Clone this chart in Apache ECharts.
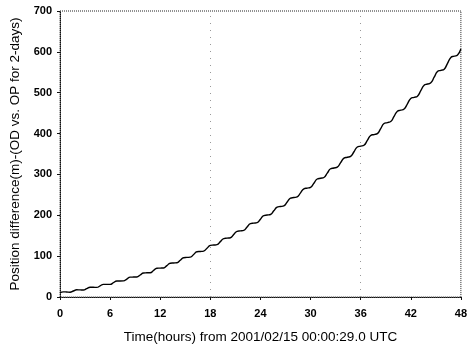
<!DOCTYPE html>
<html>
<head>
<meta charset="utf-8">
<script src="https://cdn.jsdelivr.net/npm/echarts@6/dist/echarts.min.js"></script>
<style>
html,body{margin:0;padding:0;background:#fff;}
#c{width:470px;height:351px;}
</style>
</head>
<body>
<div id="c"></div>
<script>
// Time in hours since 2001/02/15 00:00:29.0 UTC
var hours = [0,0.4,0.8,1.2,1.6,2.0,2.4,2.8,3.2,3.6,4.0,4.4,4.8,5.2,5.6,6.0,6.4,6.8,7.2,7.6,8.0,8.4,8.8,9.2,9.6,10.0,10.4,10.8,11.2,11.6,12.0,12.4,12.8,13.2,13.6,14.0,14.4,14.8,15.2,15.6,16.0,16.4,16.8,17.2,17.6,18.0,18.4,18.8,19.2,19.6,20.0,20.4,20.8,21.2,21.6,22.0,22.4,22.8,23.2,23.6,24.0,24.4,24.8,25.2,25.6,26.0,26.4,26.8,27.2,27.6,28.0,28.4,28.8,29.2,29.6,30.0,30.4,30.8,31.2,31.6,32.0,32.4,32.8,33.2,33.6,34.0,34.4,34.8,35.2,35.6,36.0,36.4,36.8,37.2,37.6,38.0,38.4,38.8,39.2,39.6,40.0,40.4,40.8,41.2,41.6,42.0,42.4,42.8,43.2,43.6,44.0,44.4,44.8,45.2,45.6,46.0,46.4,46.8,47.2,47.6,48.0];
// Position difference (m), OD vs OP
var posDiff = [10.0,12.6,12.2,11.8,14.7,17.7,17.4,17.1,20.4,23.8,23.7,23.5,27.2,31.0,31.0,30.9,35.0,39.3,39.3,39.4,43.9,48.6,48.8,48.9,53.9,58.9,59.2,59.5,64.8,70.3,70.7,71.1,76.9,82.7,83.3,83.8,90.0,96.2,96.9,97.5,104.1,110.8,111.5,112.3,119.3,126.3,127.2,128.1,135.5,143.0,144.0,145.0,152.8,160.7,161.8,162.9,171.1,179.4,180.7,181.9,190.5,199.2,200.6,201.9,210.9,220.0,221.5,223.0,232.4,241.9,243.5,245.1,254.9,264.8,266.6,268.3,278.5,288.8,290.7,292.5,303.1,313.9,315.8,317.8,328.8,339.9,342.0,344.1,355.5,367.1,369.3,371.5,383.3,395.3,397.6,399.9,412.1,424.5,426.9,429.4,442.0,454.8,457.3,459.9,472.9,486.1,488.8,491.5,504.9,518.5,521.3,524.1,537.9,551.9,554.8,557.7,572.0,586.4,589.4,592.5,607.1];
var xTicks = {min: 0, max: 48, interval: 6};
var yTicks = {min: 0, max: 700, interval: 100};
var gridHours = [18, 36];
var xTitle = 'Time(hours) from 2001/02/15 00:00:29.0 UTC';
var yTitle = 'Position difference(m)-(OD vs. OP for 2-days)';

var pts = hours.map(function(h, i){ return [h, posDiff[i]]; });

var chart = echarts.init(document.getElementById('c'), null, {renderer: 'canvas'});
chart.setOption({
  animation: false,
  backgroundColor: '#fff',
  grid: {left: 58, right: 4, top: 11, bottom: 54, show: true, borderColor: '#222', borderWidth: 1, borderType: 'dotted'},
  xAxis: {
    type: 'value', min: xTicks.min, max: xTicks.max, interval: xTicks.interval,
    name: xTitle, nameLocation: 'middle', nameGap: 33,
    nameTextStyle: {fontFamily: 'Liberation Sans', fontSize: 13.5, color: '#000'},
    axisLine: {show: true, lineStyle: {color: '#111', type: 'dotted', width: 1}},
    axisTick: {show: true, length: 3, inside: false, lineStyle: {color: '#111'}},
    axisLabel: {fontFamily: 'Liberation Sans', fontWeight: 'bold', fontSize: 11, color: '#000', margin: 11},
    splitLine: {show: false}
  },
  yAxis: {
    type: 'value', min: yTicks.min, max: yTicks.max, interval: yTicks.interval,
    name: yTitle, nameLocation: 'middle', nameGap: 38, nameRotate: 90,
    nameTextStyle: {fontFamily: 'Liberation Sans', fontSize: 13.5, color: '#000'},
    axisLine: {show: true, lineStyle: {color: '#111', type: 'dotted', width: 1}},
    axisTick: {show: true, length: 3, inside: false, lineStyle: {color: '#111'}},
    axisLabel: {fontFamily: 'Liberation Sans', fontWeight: 'bold', fontSize: 11, color: '#000', margin: 8},
    splitLine: {show: false}
  },
  series: [{
    type: 'line',
    data: pts,
    smooth: 0.5,
    showSymbol: false,
    lineStyle: {color: '#000', width: 1.4},
    markLine: {
      silent: true, symbol: 'none', label: {show: false},
      lineStyle: {color: '#999', type: [1, 6], width: 1},
      data: gridHours.map(function(h){ return {xAxis: h}; })
    }
  }]
});
</script>
</body>
</html>
